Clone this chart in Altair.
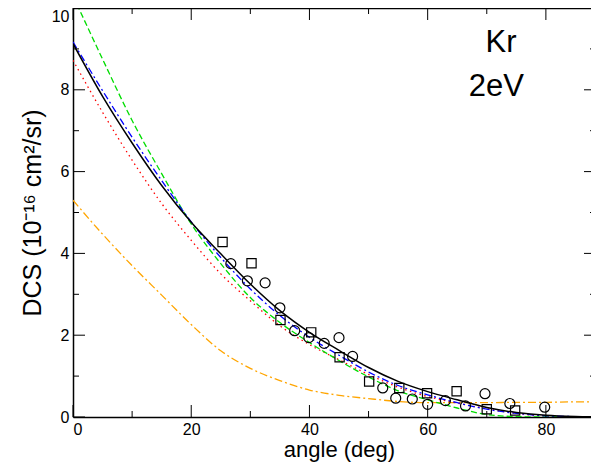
import altair as alt
import pandas as pd

FONT = "Liberation Sans"

# ---- curves (angle in deg, DCS in 1e-16 cm^2/sr) ----
angle = [0, 5, 10, 15, 20, 25, 30, 35, 40, 45, 50, 55, 60, 65, 70, 75, 80, 85, 90]
black = [9.13, 7.84, 6.70, 5.66, 4.76, 3.99, 3.25, 2.60, 2.07, 1.63, 1.21, 0.87, 0.62, 0.42, 0.23, 0.11, 0.04, 0.01, 0.0]
blue = [9.17, 7.98, 6.84, 5.78, 4.77, 3.90, 3.13, 2.48, 1.95, 1.51, 1.10, 0.77, 0.54, 0.35, 0.19, 0.09, 0.03, 0.01, 0.0]
green = [10.3, 8.75, 7.25, 5.95, 4.72, 3.75, 2.92, 2.31, 1.82, 1.38, 0.98, 0.64, 0.42, 0.22, 0.06, 0.01, 0.0, 0.0, 0.0]
red = [8.72, 7.45, 6.28, 5.22, 4.32, 3.50, 2.84, 2.23, 1.77, 1.40, 1.04, 0.73, 0.50, 0.34, 0.20, 0.09, 0.02, 0.0, 0.0]
orange = [5.30, 4.47, 3.70, 2.98, 2.26, 1.62, 1.19, 0.89, 0.66, 0.53, 0.45, 0.38, 0.35, 0.35, 0.35, 0.36, 0.36, 0.37, 0.37]

# ---- experimental points ----
sq_x = [25.3, 30.2, 35.1, 40.3, 45.1, 50.1, 55.2, 59.9, 64.9, 70.0, 74.8]
sq_y = [4.28, 3.76, 2.37, 2.07, 1.46, 0.87, 0.71, 0.58, 0.63, 0.19, 0.16]
ci_x = [26.7, 29.5, 32.5, 35.0, 37.5, 39.9, 42.5, 45.0, 47.3, 52.4, 54.6, 57.4, 60.0, 63.0, 66.4, 69.7, 73.9, 79.8]
ci_y = [3.75, 3.33, 3.28, 2.67, 2.11, 1.94, 1.80, 1.94, 1.48, 0.71, 0.46, 0.44, 0.31, 0.40, 0.27, 0.57, 0.33, 0.24]

x_major = [0, 20, 40, 60, 80]
x_minor = [10, 30, 50, 70]
y_major = [0, 2, 4, 6, 8, 10]
y_minor = [1, 3, 5, 7, 9]

labels = ["Kr", "2eV"]
label_x = [72.4, 71.6]
label_y = [8.92, 7.84]

PX_PER_DEG = 5.911
W, H = 518, 409
XMAX = W / PX_PER_DEG

xscale = alt.Scale(domain=[0, XMAX], nice=False, zero=False)
yscale = alt.Scale(domain=[0, 10], nice=False, zero=False)
xaxis = alt.Axis(values=x_major, ticks=False, grid=False, labelPadding=4,
                 title="angle (deg)", titlePadding=2, titleX=266, titleFontSize=22)
yaxis = alt.Axis(values=y_major, ticks=False, grid=False, labelPadding=4,
                 labelBaseline={"condition": {"test": "datum.value == 10", "value": "top"}, "value": "middle"},
                 title="DCS (10⁻¹⁶ cm²/sr)", titlePadding=6, titleFontSize=25)
X = alt.X("x:Q", scale=xscale, axis=xaxis)
Y = alt.Y("y:Q", scale=yscale, axis=yaxis)


def line(vals, color, dash, width=1.3):
    df = pd.DataFrame({"x": angle, "y": vals})
    kw = dict(color=color, strokeWidth=width, clip=True, interpolate="monotone")
    if dash:
        kw["strokeDash"] = dash
    return alt.Chart(df).mark_line(**kw).encode(x=X, y=Y)


layers = [
    line(orange, "#ffa500", [8, 3, 2, 3]),
    line(red, "#ff0000", [1.5, 3.5]),
    line(green, "#00dd00", [6, 3]),
    line(blue, "#0000ff", [7, 3, 2, 3]),
    line(black, "#000000", None, 1.5),
]

sq = alt.Chart(pd.DataFrame({"x": sq_x, "y": sq_y})).mark_point(
    shape="square", filled=False, color="black", size=85, strokeWidth=1.2, opacity=1
).encode(x=X, y=Y)
ci = alt.Chart(pd.DataFrame({"x": ci_x, "y": ci_y})).mark_point(
    shape="circle", filled=False, color="black", size=100, strokeWidth=1.2, opacity=1
).encode(x=X, y=Y)


def xticks(vals, y0, y1):
    return alt.Chart(pd.DataFrame({"x": vals})).mark_rule(color="black", strokeWidth=1).encode(
        x=X, y=alt.value(y0), y2=alt.value(y1))


def yticks(vals, x0, x1):
    return alt.Chart(pd.DataFrame({"y": vals})).mark_rule(color="black", strokeWidth=1).encode(
        y=Y, x=alt.value(x0), x2=alt.value(x1))


ticks = [
    xticks(x_major, H, H - 12), xticks(x_minor, H, H - 6),
    xticks(x_major, 0, 12), xticks(x_minor, 0, 6),
    yticks(y_major, 0, 12), yticks(y_minor, 0, 6),
    yticks(y_major, W - 7, W), yticks(y_minor, W - 1, W),
]

top = alt.Chart(pd.DataFrame({"x": [0]})).mark_rule(color="black", strokeWidth=1.5).encode(
    x=alt.value(0), x2=alt.value(W), y=alt.value(0.5))

txt = alt.Chart(pd.DataFrame({"x": label_x, "y": label_y, "t": labels})).mark_text(
    font=FONT, fontSize=31, align="center", baseline="alphabetic", color="black"
).encode(x=X, y=Y, text="t:N")

chart = alt.layer(*layers, sq, ci, *ticks, top, txt).properties(
    width=W, height=H,
    padding={"left": 65, "top": 0, "right": 0, "bottom": 47},
    autosize=alt.AutoSizeParams(type="none"),
).configure_view(stroke=None).configure_axis(
    domainColor="black", domainWidth=1.5,
    labelFont=FONT, labelFontSize=16, labelColor="black",
    titleFont=FONT, titleFontWeight="normal", titleColor="black",
)

chart.save("out.html", embed_options={"renderer": "svg", "actions": False})
